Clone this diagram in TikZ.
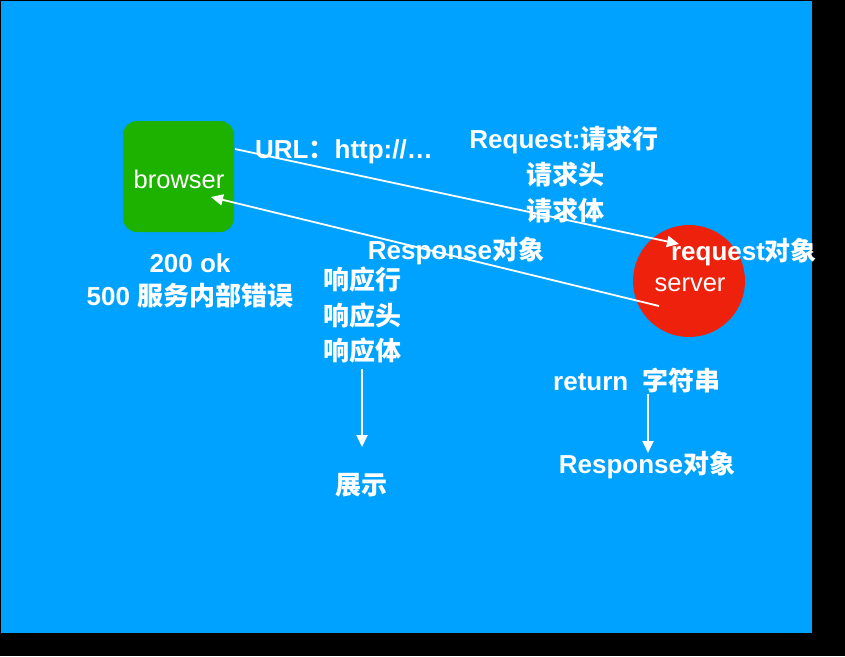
\documentclass[tikz,border=0pt]{standalone}
\usepackage{fontspec}
\setmainfont{Liberation Sans}
\newfontfamily\cjk{Noto Sans CJK SC}
\usetikzlibrary{arrows.meta}
\definecolor{bgblue}{HTML}{00A2FF}
\definecolor{boxgreen}{HTML}{1DB100}
\definecolor{circred}{HTML}{EE220C}
\tikzset{
  lbl/.style={text=white, inner sep=0pt, anchor=base, font=\fontsize{26}{30}\selectfont\bfseries},
  nlbl/.style={text=white, inner sep=0pt, anchor=base, font=\fontsize{25.5}{30}\selectfont},
  conn/.style={draw=white, line width=1.8pt, -{Triangle[length=12pt,width=11pt]}},
}
\begin{document}
\begin{tikzpicture}[x=1pt,y=-1pt]
\useasboundingbox (0,0) rectangle (845,656);
\fill[black] (0,0) rectangle (845,656);
\fill[bgblue] (1,1) rectangle (812,633);
% browser box
\node[fill=boxgreen, rounded corners=14pt, minimum width=111pt, minimum height=111pt, inner sep=0pt] (browser) at (178.5,176.5) {};
\node[nlbl] (browsertxt) at (179,188) {browser};
% server circle
\node[circle, fill=circred, minimum size=112pt, inner sep=0pt] (server) at (689,281) {};
\node[nlbl] (servertxt) at (690,291) {server};
% texts
\node[lbl] (url) at (344,158) {URL{\cjk ：}http://…};
\node[lbl] (req1) at (564,148) {Request:{\cjk 请求行}};
\node[lbl] (req2) at (565,184) {\cjk 请求头};
\node[lbl] (req3) at (565,220) {\cjk 请求体};
\node[lbl] (reqobj) at (744,260) {request{\cjk 对象}};
\node[lbl] (respobj) at (456,259) {Response{\cjk 对象}};
\node[lbl] (ok) at (190,272) {200 ok};
\node[lbl] (err) at (190,305) {500 {\cjk 服务内部错误}};
\node[lbl] (h1) at (362,289) {\cjk 响应行};
\node[lbl] (h2) at (362,325) {\cjk 响应头};
\node[lbl] (h3) at (362,360) {\cjk 响应体};
\node[lbl] (show) at (361,494) {\cjk 展示};
\node[lbl] (ret) at (637,390) {return\ \ {\cjk 字符串}};
\node[lbl] (resp2) at (647,473) {Response{\cjk 对象}};
% connector endpoints
\coordinate (a1s) at (235,149);
\coordinate (a1e) at (679,244);
\coordinate (a2s) at (659,306);
\coordinate (a2e) at (211,197);
\coordinate (a3s) at (362,369);
\coordinate (a3e) at (362,447);
\coordinate (a4s) at (648,394);
\coordinate (a4e) at (648,453);
\draw[conn] (a1s) -- (a1e);
\draw[conn] (a2s) -- (a2e);
\draw[conn] (a3s) -- (a3e);
\draw[conn] (a4s) -- (a4e);
\end{tikzpicture}
\end{document}
